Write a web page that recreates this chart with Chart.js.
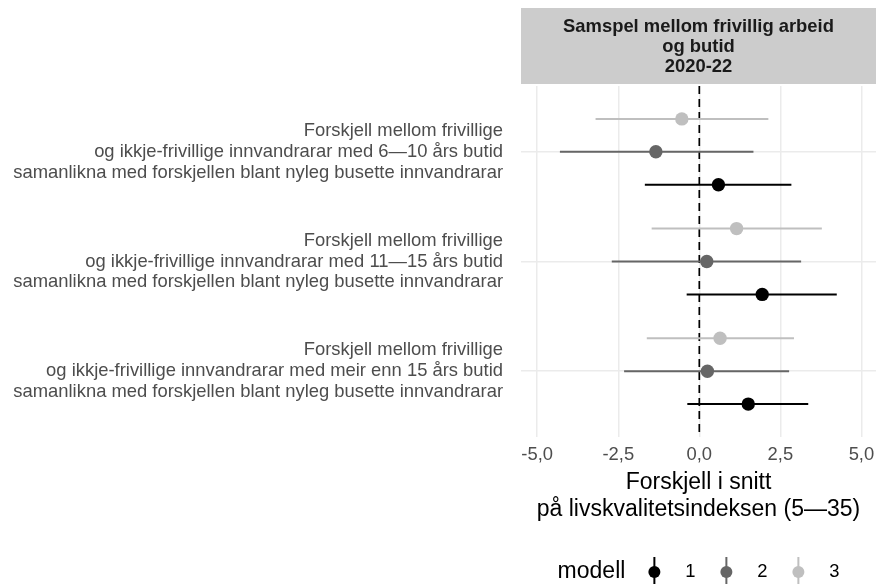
<!DOCTYPE html>
<html>
<head>
<meta charset="utf-8">
<script src="https://cdn.jsdelivr.net/npm/chart.js@4/dist/chart.umd.min.js"></script>
<style>
  body { margin: 0; background: #fff; }
  #wrap { width: 876px; height: 584px; position: relative; }
</style>
</head>
<body>
<div id="wrap"><canvas id="chart"></canvas></div>
<script>
// categories (one per row group, top to bottom)
var groupLabels = [
  ["Forskjell mellom frivillige", "og ikkje-frivillige innvandrarar med 6\u201410 års butid", "samanlikna med forskjellen blant nyleg busette innvandrarar"],
  ["Forskjell mellom frivillige", "og ikkje-frivillige innvandrarar med 11\u201415 års butid", "samanlikna med forskjellen blant nyleg busette innvandrarar"],
  ["Forskjell mellom frivillige", "og ikkje-frivillige innvandrarar med meir enn 15 års butid", "samanlikna med forskjellen blant nyleg busette innvandrarar"]
];

var models = ["1", "2", "3"];
var modelColors = ["#000000", "#666666", "#bfbfbf"];
var modelOffsets = [0.3, 0, -0.3]; // dodge, y axis is reversed

// estimates and 95% intervals per model
var est1 = [0.59, 1.94, 1.51];
var lo1 = [-1.68, -0.39, -0.37];
var hi1 = [2.84, 4.24, 3.36];

var est2 = [-1.34, 0.23, 0.25];
var lo2 = [-4.30, -2.70, -2.32];
var hi2 = [1.67, 3.14, 2.77];

var est3 = [-0.54, 1.15, 0.64];
var lo3 = [-3.20, -1.47, -1.62];
var hi3 = [2.13, 3.78, 2.92];

var xTicks = [-5, -2.5, 0, 2.5, 5];
var stripLines = ["Samspel mellom frivillig arbeid", "og butid", "2020-22"];
var xTitle = ["Forskjell i snitt", "på livskvalitetsindeksen (5\u201435)"];
var legendTitle = "modell";

var ests = [est1, est2, est3];
var los = [lo1, lo2, lo3];
var his = [hi1, hi2, hi3];

var FONT = "'Liberation Sans', Arial, sans-serif";
Chart.defaults.font.family = FONT;

var datasets = [];

// zero reference line
datasets.push({
  data: [{ x: 0, y: 0.4 }, { x: 0, y: 3.6 }],
  showLine: true,
  borderColor: "#000",
  borderWidth: 1.7,
  borderDash: [8, 5],
  pointRadius: 0,
  order: 5
});

// error bars (draw light model first)
for (var m = 2; m >= 0; m--) {
  for (var g = 0; g < groupLabels.length; g++) {
    var yy = g + 1 + modelOffsets[m];
    datasets.push({
      data: [{ x: los[m][g], y: yy }, { x: his[m][g], y: yy }],
      showLine: true,
      borderColor: modelColors[m],
      borderWidth: 2,
      pointRadius: 0,
      order: 4
    });
  }
}

// point estimates
for (var m2 = 2; m2 >= 0; m2--) {
  var pts = [];
  for (var g2 = 0; g2 < groupLabels.length; g2++) {
    pts.push({ x: ests[m2][g2], y: g2 + 1 + modelOffsets[m2] });
  }
  datasets.push({
    data: pts,
    backgroundColor: modelColors[m2],
    borderWidth: 0,
    pointRadius: 6.7,
    order: 1
  });
}

// facet strip above the panel
var stripPlugin = {
  id: "strip",
  beforeDraw: function(chart) {
    var ctx = chart.ctx;
    var a = chart.chartArea;
    ctx.save();
    ctx.fillStyle = "#cccccc";
    ctx.fillRect(a.left, 8, a.right - a.left, 76);
    ctx.fillStyle = "#1a1a1a";
    ctx.font = "bold 18.4px " + FONT;
    ctx.textAlign = "center";
    ctx.textBaseline = "middle";
    var cx = (a.left + a.right) / 2;
    for (var i = 0; i < stripLines.length; i++) {
      ctx.fillText(stripLines[i], cx, 27 + i * 20);
    }
    ctx.restore();
  }
};

// legend at bottom: "modell" + pointrange glyphs
var legendPlugin = {
  id: "pointrangeLegend",
  afterDraw: function(chart) {
    var ctx = chart.ctx;
    var a = chart.chartArea;
    var y = 572;
    ctx.save();
    ctx.font = "23px " + FONT;
    var tw = ctx.measureText(legendTitle).width;
    var total = tw + 29 + 72 * (models.length - 1) + 36 + 5;
    var x0 = (a.left + a.right) / 2 - total / 2;
    ctx.fillStyle = "#000";
    ctx.textAlign = "left";
    ctx.textBaseline = "middle";
    ctx.fillText(legendTitle, x0, y);
    var gx = x0 + tw + 29;
    for (var i = 0; i < models.length; i++) {
      ctx.strokeStyle = modelColors[i];
      ctx.fillStyle = modelColors[i];
      ctx.lineWidth = 2;
      ctx.beginPath();
      ctx.moveTo(gx, y - 15);
      ctx.lineTo(gx, y + 13);
      ctx.stroke();
      ctx.beginPath();
      ctx.arc(gx, y, 6, 0, Math.PI * 2);
      ctx.fill();
      ctx.fillStyle = "#000";
      ctx.font = "18.4px " + FONT;
      ctx.textAlign = "center";
      ctx.fillText(models[i], gx + 36, y);
      gx += 72;
    }
    ctx.restore();
  }
};

new Chart(document.getElementById("chart"), {
  type: "scatter",
  data: { datasets: datasets },
  plugins: [stripPlugin, legendPlugin],
  options: {
    responsive: true,
    maintainAspectRatio: false,
    animation: false,
    layout: { autoPadding: false, padding: { top: 86, right: 0, bottom: 61, left: 0 } },
    plugins: {
      legend: { display: false },
      tooltip: { enabled: false }
    },
    scales: {
      x: {
        type: "linear",
        min: -5.5,
        max: 5.45,
        afterBuildTicks: function(scale) {
          scale.ticks = xTicks.map(function(v) { return { value: v }; });
        },
        afterFit: function(scale) {
          scale.height = 86;
          scale.paddingLeft = 0;
          scale.paddingRight = 0;
        },
        border: { display: false },
        grid: { color: "#ebebeb", lineWidth: 1.5, drawTicks: false },
        ticks: {
          padding: 7,
          color: "#4d4d4d",
          font: { size: 18.4 },
          maxRotation: 0,
          callback: function(v) { return v.toFixed(1).replace(".", ","); }
        },
        title: {
          display: true,
          text: xTitle,
          color: "#000",
          padding: 0,
          font: { size: 23, lineHeight: 1.157 }
        }
      },
      y: {
        type: "linear",
        reverse: true,
        min: 0.4,
        max: 3.6,
        afterBuildTicks: function(scale) {
          scale.ticks = groupLabels.map(function(l, i) { return { value: i + 1 }; });
        },
        afterFit: function(scale) {
          scale.width = 521;
        },
        border: { display: false },
        grid: { color: "#ebebeb", lineWidth: 1.5, drawTicks: false },
        ticks: {
          padding: 18,
          color: "#4d4d4d",
          font: { size: 18.4, lineHeight: 1.13 },
          callback: function(v) { return groupLabels[Math.round(v) - 1]; }
        }
      }
    }
  }
});
</script>
</body>
</html>
